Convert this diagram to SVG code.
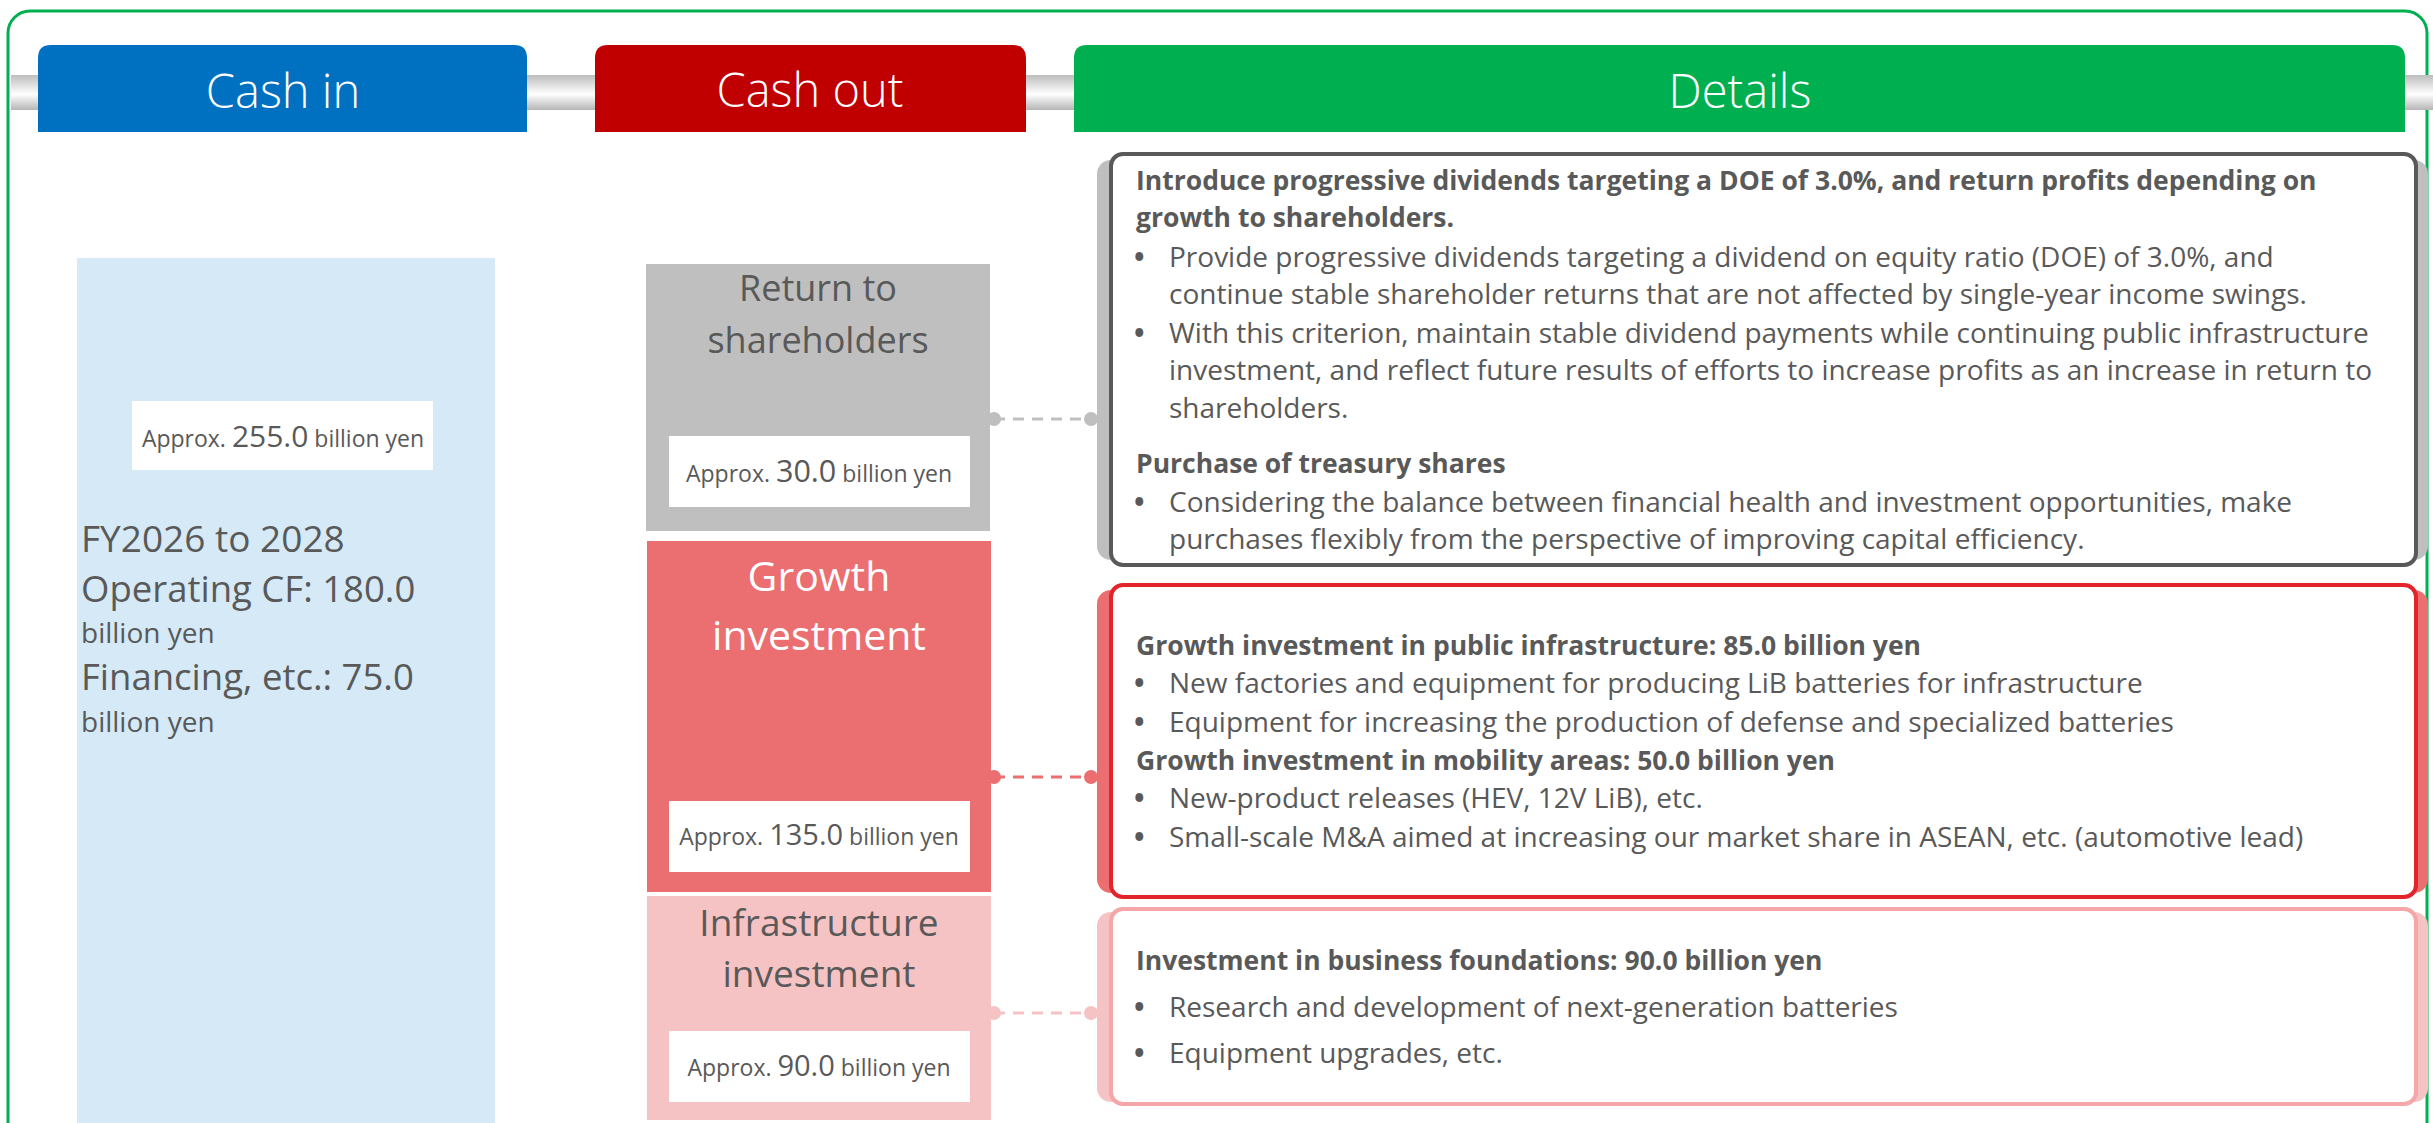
<svg xmlns="http://www.w3.org/2000/svg" width="2433" height="1123" viewBox="0 0 2433 1123">
  <defs>
    <linearGradient id="band" x1="0" y1="0" x2="0" y2="1">
      <stop offset="0" stop-color="#BDBDBD"/>
      <stop offset="0.55" stop-color="#FFFFFF"/>
      <stop offset="1" stop-color="#B5B5B5"/>
    </linearGradient>
    <style>
      text { font-family: "Open Sans", "Noto Sans", "Liberation Sans", sans-serif; }
      .hdr { fill: #FFFFFF; font-size: 47px; font-weight: 300; text-anchor: middle; }
      .gray { fill: #595959; }
      .white { fill: #FFFFFF; }
      .mid { text-anchor: middle; }
      .amt { font-size: 23px; fill: #595959; text-anchor: middle; }
      .num { font-size: 29px; }
      .body { font-size: 28px; fill: #595959; }
      .bold { font-size: 26.5px; font-weight: 700; }
      .dot { font-size: 28px; font-weight: 700; fill: #595959; }
      .conn { stroke-width: 3; stroke-dasharray: 11 8; fill: none; }
    </style>
  </defs>

  <rect width="2433" height="1123" fill="#FFFFFF"/>

  <!-- outer frame -->
  <rect x="8" y="11" width="2419" height="1140" rx="22" ry="22" fill="none" stroke="#00B050" stroke-width="3"/>

  <!-- silver rail behind the column headers -->
  <rect x="11" y="75" width="2422" height="35" fill="url(#band)"/>

  <!-- column headers -->
  <g id="hdr-cash-in">
    <path d="M38,132 V58 Q38,45 51,45 H514 Q527,45 527,58 V132 Z" fill="#0070C0"/>
    <text class="hdr" x="283" y="108">Cash in</text>
  </g>
  <g id="hdr-cash-out">
    <path d="M595,132 V58 Q595,45 608,45 H1013 Q1026,45 1026,58 V132 Z" fill="#C00000"/>
    <text class="hdr" x="810" y="107" font-size="44">Cash out</text>
  </g>
  <g id="hdr-details">
    <path d="M1074,132 V58 Q1074,45 1087,45 H2392 Q2405,45 2405,58 V132 Z" fill="#00B050"/>
    <text class="hdr" x="1740" y="108">Details</text>
  </g>

  <!-- cash in -->
  <g id="cash-in">
    <rect x="77" y="258" width="418" height="865" fill="#D5EAF6"/>
    <rect x="132" y="401" width="301" height="69" fill="#FFFFFF"/>
    <text class="amt" x="283" y="447" font-size="23.5">Approx. <tspan font-size="30">255.0</tspan> billion yen</text>
    <text class="gray" x="81" y="552" font-size="37">FY2026 to 2028</text>
    <text class="gray" x="81" y="602" font-size="36.5">Operating CF: 180.0</text>
    <text class="gray" x="81" y="643" font-size="28">billion yen</text>
    <text class="gray" x="81" y="690" font-size="36.5">Financing, etc.: 75.0</text>
    <text class="gray" x="81" y="732" font-size="28">billion yen</text>
  </g>

  <!-- cash out -->
  <g id="out-return">
    <rect x="646" y="264" width="344" height="267" fill="#BFBFBF"/>
    <text class="gray mid" x="818" y="301" font-size="36">Return to</text>
    <text class="gray mid" x="818" y="353" font-size="36">shareholders</text>
    <rect x="669" y="436" width="301" height="71" fill="#FFFFFF"/>
    <text class="amt" x="819" y="482" font-size="24">Approx. <tspan font-size="30.5">30.0</tspan> billion yen</text>
  </g>
  <g id="out-growth">
    <rect x="647" y="541" width="344" height="351" fill="#EB6E70"/>
    <text class="white mid" x="819" y="591" font-size="41">Growth</text>
    <text class="white mid" x="819" y="650" font-size="41">investment</text>
    <rect x="669" y="801" width="301" height="71" fill="#FFFFFF"/>
    <text class="amt" x="819" y="845">Approx. <tspan class="num">135.0</tspan> billion yen</text>
  </g>
  <g id="out-infra">
    <rect x="647" y="896" width="344" height="224" fill="#F6C3C4"/>
    <text class="gray mid" x="819" y="936" font-size="37">Infrastructure</text>
    <text class="gray mid" x="819" y="987" font-size="37">investment</text>
    <rect x="669" y="1031" width="301" height="71" fill="#FFFFFF"/>
    <text class="amt" x="819" y="1076">Approx. <tspan class="num">90.0</tspan> billion yen</text>
  </g>

  <!-- connectors -->
  <g id="connectors">
    <line class="conn" x1="994" y1="419" x2="1091" y2="419" stroke="#BFBFBF"/>
    <circle cx="994" cy="419" r="7" fill="#BFBFBF"/>
    <circle cx="1091" cy="419" r="7" fill="#BFBFBF"/>
    <line class="conn" x1="994" y1="777" x2="1091" y2="777" stroke="#EB6E70"/>
    <circle cx="994" cy="777" r="7" fill="#EB6E70"/>
    <circle cx="1091" cy="777" r="7" fill="#EB6E70"/>
    <line class="conn" x1="994" y1="1013" x2="1091" y2="1013" stroke="#F6C3C4"/>
    <circle cx="994" cy="1013" r="7" fill="#F6C3C4"/>
    <circle cx="1091" cy="1013" r="7" fill="#F6C3C4"/>
  </g>

  <!-- details: shareholder returns -->
  <g id="det-return">
    <rect x="1097" y="160" width="1331" height="400" rx="14" fill="#BFBFBF"/>
    <rect x="1111" y="154" width="1305" height="411" rx="12" fill="#FFFFFF" stroke="#595959" stroke-width="4"/>
    <text class="body bold" x="1136" y="190">Introduce progressive dividends targeting a DOE of 3.0%, and return profits depending on</text>
    <text class="body bold" x="1136" y="227">growth to shareholders.</text>
    <text class="dot" x="1134" y="267">•</text>
    <text class="body" x="1169" y="267">Provide progressive dividends targeting a dividend on equity ratio (DOE) of 3.0%, and</text>
    <text class="body" x="1169" y="304">continue stable shareholder returns that are not affected by single-year income swings.</text>
    <text class="dot" x="1134" y="343">•</text>
    <text class="body" x="1169" y="343">With this criterion, maintain stable dividend payments while continuing public infrastructure</text>
    <text class="body" x="1169" y="380">investment, and reflect future results of efforts to increase profits as an increase in return to</text>
    <text class="body" x="1169" y="418">shareholders.</text>
    <text class="body bold" x="1136" y="473">Purchase of treasury shares</text>
    <text class="dot" x="1134" y="512">•</text>
    <text class="body" x="1169" y="512">Considering the balance between financial health and investment opportunities, make</text>
    <text class="body" x="1169" y="549">purchases flexibly from the perspective of improving capital efficiency.</text>
  </g>

  <!-- details: growth investment -->
  <g id="det-growth">
    <rect x="1097" y="590" width="1331" height="303" rx="14" fill="#EB6E70"/>
    <rect x="1111" y="585" width="1305" height="312" rx="12" fill="#FFFFFF" stroke="#E3242B" stroke-width="4"/>
    <text class="body bold" x="1136" y="655">Growth investment in public infrastructure: 85.0 billion yen</text>
    <text class="dot" x="1134" y="693">•</text>
    <text class="body" x="1169" y="693">New factories and equipment for producing LiB batteries for infrastructure</text>
    <text class="dot" x="1134" y="732">•</text>
    <text class="body" x="1169" y="732">Equipment for increasing the production of defense and specialized batteries</text>
    <text class="body bold" x="1136" y="770">Growth investment in mobility areas: 50.0 billion yen</text>
    <text class="dot" x="1134" y="808">•</text>
    <text class="body" x="1169" y="808">New-product releases (HEV, 12V LiB), etc.</text>
    <text class="dot" x="1134" y="847">•</text>
    <text class="body" x="1169" y="847">Small-scale M&amp;A aimed at increasing our market share in ASEAN, etc. (automotive lead)</text>
  </g>

  <!-- details: infrastructure investment -->
  <g id="det-infra">
    <rect x="1097" y="912" width="1331" height="190" rx="14" fill="#F6C3C4"/>
    <rect x="1111" y="909" width="1305" height="195" rx="12" fill="#FFFFFF" stroke="#F4A6A8" stroke-width="4"/>
    <text class="body bold" x="1136" y="970">Investment in business foundations: 90.0 billion yen</text>
    <text class="dot" x="1134" y="1017">•</text>
    <text class="body" x="1169" y="1017">Research and development of next-generation batteries</text>
    <text class="dot" x="1134" y="1063">•</text>
    <text class="body" x="1169" y="1063">Equipment upgrades, etc.</text>
  </g>
</svg>
